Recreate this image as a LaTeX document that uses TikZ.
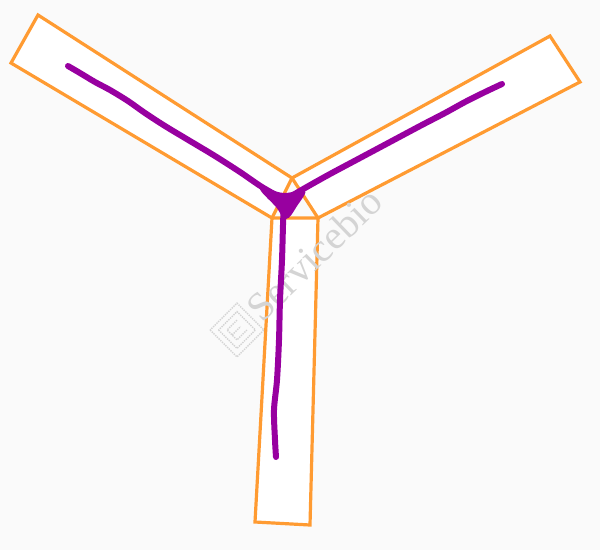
\documentclass[tikz,border=0pt]{standalone}
\usepackage{fontspec}
\setmainfont{Liberation Serif}
\usetikzlibrary{calc}
\definecolor{bgc}{RGB}{250,250,250}
\definecolor{arm}{RGB}{255,155,50}
\definecolor{fib}{RGB}{152,0,160}
\definecolor{wm}{RGB}{212,212,212}
\tikzset{
  armbox/.style={draw=arm, line width=3.2pt, fill=white, line join=miter},
  fibre/.style={draw=fib, line width=6pt, line cap=round, line join=round},
}
\begin{document}
\begin{tikzpicture}[x=1pt,y=-1pt]
\fill[bgc] (0,0) rectangle (600,550);
\useasboundingbox (0,0) rectangle (600,550);
% arms
\draw[armbox] (38,15) -- (292,178) -- (272,218) -- (11,63) -- cycle;
\draw[armbox] (292,178) -- (550,36) -- (580,82) -- (318,218) -- cycle;
\draw[armbox] (272,218) -- (318,218) -- (310,525) -- (255,522) -- cycle;
% watermark
\begin{scope}[shift={(237,330)},rotate=45]
  \draw[wm, line width=1.4pt, densely dotted] (-19,-19) rectangle (19,19);
  \draw[wm, line width=1.4pt, densely dotted] (-13,-13) rectangle (13,13);
  \draw[wm, line width=1.4pt, densely dotted] (7,-7) -- (-7,-7) -- (-7,7) -- (7,7) (-7,0) -- (5,0);
\end{scope}
\node[wm, rotate=44, anchor=base west, font=\fontsize{40}{40}\selectfont, inner sep=0pt] (wmtext) at (262,324) {Servicebio};
% fibres
\draw[fibre] plot[smooth, tension=0.5] coordinates {(68,66) (80,73) (95,82) (110,90) (128,101) (145,113) (165,126) (190,141) (215,156) (240,172) (262,187) (285,200)};
\draw[fibre] plot[smooth, tension=0.5] coordinates {(502,84) (485,92) (465,102) (445,113) (420,126) (390,142) (360,158) (330,174) (305,188) (288,198)};
\draw[fibre] plot[smooth, tension=0.5] coordinates {(284,200) (283,225) (282,260) (280,300) (279,340) (277,380) (274,410) (275,440) (276,457)};
% junction blob
\fill[fib] plot[smooth cycle, tension=0.7] coordinates {(260,188) (284,193) (305,190) (297,206) (286,219) (276,207)};
\end{tikzpicture}
\end{document}
